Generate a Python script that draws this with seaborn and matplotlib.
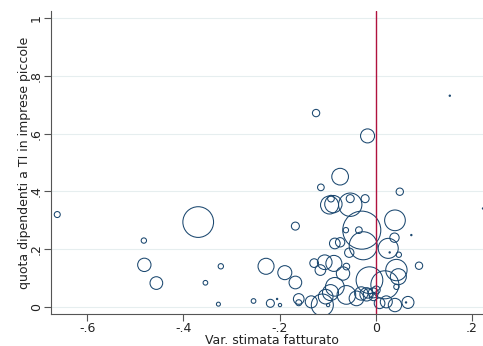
import matplotlib
matplotlib.use("Agg")
import matplotlib.pyplot as plt
import seaborn as sns
import pandas as pd
import numpy as np

# estimated sales variation (x), share of employees (y), bubble weight
var_fatturato = [-0.662, -0.482, -0.481, -0.456, -0.369, -0.354, -0.322, -0.327, -0.254, -0.228,
                 -0.219, -0.205, -0.199, -0.189, -0.167, -0.167, -0.160, -0.160, -0.124, -0.114,
                 -0.128, -0.115, -0.106, -0.134, -0.111, -0.104, -0.099, -0.094, -0.096, -0.088,
                 -0.093, -0.087, -0.085, -0.074, -0.074, -0.068, -0.085, -0.061, -0.055, -0.062,
                 -0.053, -0.053, -0.029, -0.035, -0.026, -0.022, -0.017, -0.061, -0.040, -0.030,
                 -0.013, -0.019, -0.016, -0.005, -0.005, 0.001, 0.008, 0.019, 0.026, 0.029,
                 0.022, 0.040, 0.040, 0.043, 0.039, 0.050, 0.048, 0.047, 0.043, 0.067,
                 0.063, 0.074, 0.090, 0.154, 0.223]
quota_dip = [0.320, 0.230, 0.146, 0.083, 0.294, 0.084, 0.141, 0.010, 0.021, 0.141,
             0.013, 0.028, 0.007, 0.119, 0.280, 0.085, 0.028, 0.015, 0.671, 0.414,
             0.152, 0.128, 0.155, 0.018, 0.007, 0.036, 0.007, 0.050, 0.353, 0.356,
             0.375, 0.151, 0.220, 0.451, 0.224, 0.116, 0.070, 0.140, 0.188, 0.266,
             0.375, 0.354, 0.266, 0.266, 0.212, 0.375, 0.592, 0.042, 0.030, 0.047,
             0.093, 0.044, 0.047, 0.049, 0.036, 0.059, 0.013, 0.077, 0.203, 0.189,
             0.018, 0.007, 0.300, 0.128, 0.240, 0.399, 0.181, 0.105, 0.070, 0.016,
             0.016, 0.249, 0.143, 0.731, 0.341]
peso = [81, 64, 400, 361, 2116, 49, 64, 36, 49, 576,
        144, 4, 25, 441, 144, 361, 256, 81, 121, 100,
        169, 256, 484, 324, 1089, 484, 25, 576, 729, 676,
        100, 576, 256, 625, 196, 400, 784, 100, 196, 64,
        144, 1225, 3249, 100, 1764, 144, 441, 784, 484, 400,
        1600, 400, 196, 225, 144, 144, 256, 1764, 900, 4,
        324, 400, 961, 1024, 196, 121, 64, 576, 64, 324,
        4, 4, 121, 4, 4]

df = pd.DataFrame({"x": var_fatturato, "y": quota_dip, "w": peso})

xticks = [-0.6, -0.4, -0.2, 0.0, 0.2]
xticklabels = ["-.6", "-.4", "-.2", "0", ".2"]
yticks = [0, 0.2, 0.4, 0.6, 0.8, 1.0]
yticklabels = ["0", ".2", ".4", ".6", ".8", "1"]

sns.set_theme(style="white")
plt.rcParams["font.family"] = ["DejaVu Sans"]

fig = plt.figure(figsize=(4.83, 3.46), dpi=100)
ax = fig.add_axes([51/483, 1 - 314/346, 1 - 51/483 + 0.001, (314 - 11)/346])

for yt in yticks:
    ax.axhline(yt, color="#e6eeef", lw=0.8, zorder=0)

navy = "#1a476f"
sns.scatterplot(data=df, x="x", y="y", size="w", sizes=(0, 750), size_norm=(0, 3249),
                facecolors="none", edgecolor=navy, linewidth=0.75, legend=False, ax=ax,
                zorder=2)
for coll in ax.collections:
    coll.set_facecolor("none")
    coll.set_edgecolor(navy)

ax.axvline(0, color="#b0123e", lw=1.0, zorder=3)

ax.set_xlim(-0.675, 0.224)
ax.set_ylim(-0.024, 1.024)
ax.set_xticks(xticks)
ax.set_xticklabels(xticklabels)
ax.set_yticks(yticks)
ax.set_yticklabels(yticklabels, rotation=90, va="center")
ax.tick_params(axis="both", direction="out", length=5, width=0.8, color="#555555",
               labelsize=9, labelcolor="#222222", pad=1, bottom=True, left=True)
for s in ["top", "right"]:
    ax.spines[s].set_visible(False)
for s in ["left", "bottom"]:
    ax.spines[s].set_color("#555555")
    ax.spines[s].set_linewidth(0.8)

ax.set_xlabel("Var. stimata fatturato", fontsize=9, color="#222222")
ax.xaxis.set_label_coords(0.51, -0.067)
ax.set_ylabel("quota dipendenti a TI in imprese piccole", fontsize=9, color="#222222", labelpad=-1)

fig.savefig("out.png", dpi=100)
